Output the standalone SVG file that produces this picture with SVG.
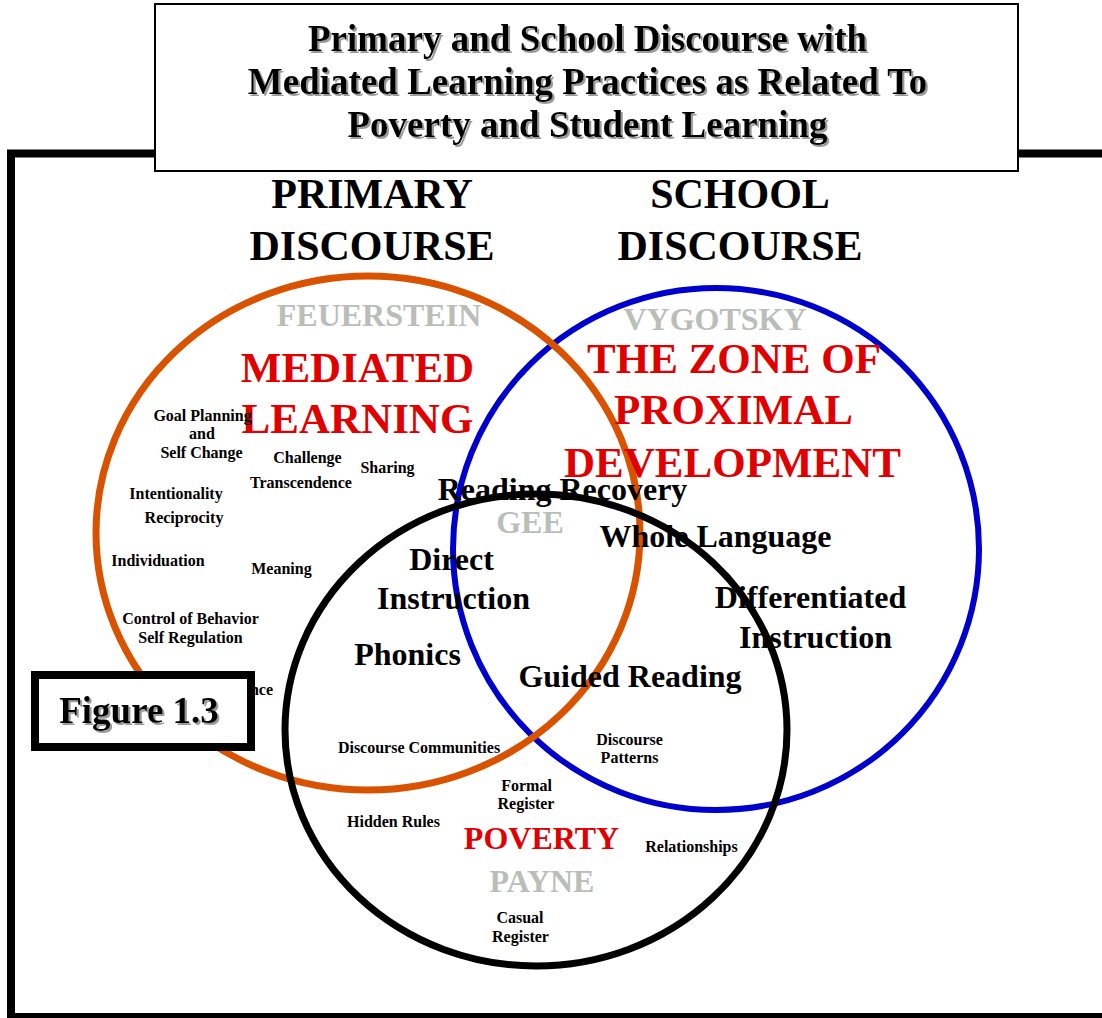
<svg xmlns="http://www.w3.org/2000/svg" width="1102" height="1018" viewBox="0 0 1102 1018">
<defs>
<filter id="shadow" x="-5%" y="-20%" width="110%" height="140%">
<feDropShadow dx="2" dy="2" stdDeviation="0.6" flood-color="#9a9a9a" flood-opacity="1"/>
</filter>
</defs>
<style>
text{font-family:"Liberation Serif","Times New Roman",serif;font-weight:bold;text-anchor:middle;fill:#000}
.title{font-size:37px}
.head{font-size:42px}
.grey{font-size:32px;fill:#B9BEB9}
.red{font-size:43px;fill:#E00000}
.mid{font-size:32px}
.sm{font-size:16px}
.ring{fill:none}
</style>
<rect width="1102" height="1018" fill="#fff"/>
<g id="frame">
<path d="M1110,153.5 H11 V1017 H1110" fill="none" stroke="#000" stroke-width="8"/>
</g>
<g id="title-box">
<rect x="155" y="4" width="863" height="167" fill="#fff" stroke="#000" stroke-width="2"/>
<g filter="url(#shadow)">
<text class="title" x="587.5" y="51">Primary and School Discourse with</text>
<text class="title" x="587.5" y="94">Mediated Learning Practices as Related To</text>
<text class="title" x="587.5" y="137">Poverty and Student Learning</text>
</g>
</g>
<g id="headings">
<text class="head" x="372" y="208">PRIMARY</text>
<text class="head" x="372" y="260">DISCOURSE</text>
<text class="head" x="740" y="208">SCHOOL</text>
<text class="head" x="740" y="260">DISCOURSE</text>
</g>
<g id="circles">
<ellipse id="school-circle" class="ring" cx="716" cy="549" rx="263" ry="261" stroke="#0000CC" stroke-width="6"/>
<ellipse id="primary-circle" class="ring" cx="368" cy="533" rx="272" ry="257" stroke="#D95200" stroke-width="7"/>
<ellipse id="poverty-circle" class="ring" cx="536" cy="730" rx="251" ry="236" stroke="#000" stroke-width="7"/>
</g>
<g id="primary-labels">
<text class="grey" x="379" y="326">FEUERSTEIN</text>
<text class="red" x="357.5" y="382">MEDIATED</text>
<text class="red" x="357.5" y="433">LEARNING</text>
<text class="sm" x="202.5" y="421">Goal Planning</text>
<text class="sm" x="202" y="439">and</text>
<text class="sm" x="201.5" y="458">Self Change</text>
<text class="sm" x="307.5" y="463">Challenge</text>
<text class="sm" x="301" y="488">Transcendence</text>
<text class="sm" x="387.5" y="473">Sharing</text>
<text class="sm" x="176" y="499">Intentionality</text>
<text class="sm" x="184" y="523">Reciprocity</text>
<text class="sm" x="158" y="566">Individuation</text>
<text class="sm" x="281.5" y="574">Meaning</text>
<text class="sm" x="190.5" y="624">Control of Behavior</text>
<text class="sm" x="190.5" y="643">Self Regulation</text>
<text class="sm" x="273" y="695" style="text-anchor:end">Competence</text>
</g>
<g id="school-labels">
<text class="grey" x="715" y="330">VYGOTSKY</text>
<text class="red" x="734" y="373">THE ZONE OF</text>
<text class="red" x="733.5" y="424">PROXIMAL</text>
<text class="red" x="732.5" y="477">DEVELOPMENT</text>
<text class="mid" x="715.5" y="547">Whole Language</text>
<text class="mid" x="810.5" y="608">Differentiated</text>
<text class="mid" x="815.5" y="648">Instruction</text>
</g>
<g id="overlap-labels">
<text class="mid" x="562.5" y="500">Reading Recovery</text>
<text class="grey" x="530" y="533">GEE</text>
<text class="mid" x="451.5" y="570">Direct</text>
<text class="mid" x="453.5" y="609">Instruction</text>
<text class="mid" x="407.5" y="665">Phonics</text>
<text class="mid" x="630" y="687">Guided Reading</text>
</g>
<g id="poverty-labels">
<text class="sm" x="419" y="753">Discourse Communities</text>
<text class="sm" x="629.5" y="745">Discourse</text>
<text class="sm" x="629.5" y="763">Patterns</text>
<text class="sm" x="526.5" y="791">Formal</text>
<text class="sm" x="526" y="809">Register</text>
<text class="sm" x="393.5" y="827">Hidden Rules</text>
<text class="mid" x="541.5" y="849" style="fill:#E00000">POVERTY</text>
<text class="sm" x="691.5" y="852">Relationships</text>
<text class="grey" x="542" y="892">PAYNE</text>
<text class="sm" x="520" y="923">Casual</text>
<text class="sm" x="520.5" y="942">Register</text>
</g>
<g id="figure-label">
<rect x="35" y="675" width="216" height="72" fill="#fff" stroke="#000" stroke-width="8"/>
<text x="139" y="723" filter="url(#shadow)" style="font-size:37px">Figure 1.3</text>
</g>
</svg>
